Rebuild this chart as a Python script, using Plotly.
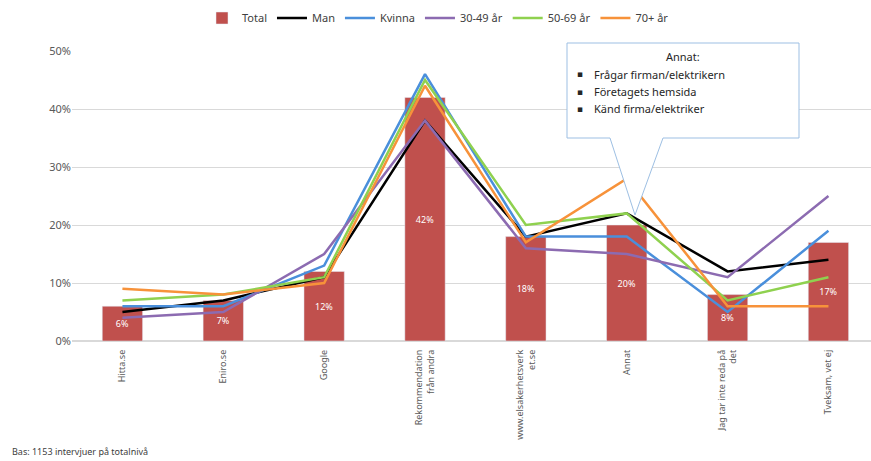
import plotly.graph_objects as go

categories = ["Hitta.se", "Eniro.se", "Google", "Rekommendation<br>från andra",
              "www.elsakerhetsverk<br>et.se", "Annat", "Jag tar inte reda på<br>det",
              "Tveksam, vet ej"]
total = [6, 7, 12, 42, 18, 20, 8, 17]
man = [5, 7, 11, 38, 18, 22, 12, 14]
kvinna = [6, 6, 13, 46, 18, 18, 5, 19]
age_30_49 = [4, 5, 15, 38, 16, 15, 11, 25]
age_50_69 = [7, 8, 11, 45, 20, 22, 7, 11]
age_70 = [9, 8, 10, 44, 17, 28, 6, 6]
y_ticks = [0, 10, 20, 30, 40, 50]
y_tick_labels = ["0%", "10%", "20%", "30%", "40%", "50%"]

W, H = 871, 461
L, R, T, B = 72, 0, 51, 120
pw, ph = W - L - R, H - T - B

def px(x):
    return (x - L) / pw

def py(y):
    return (H - B - y) / ph

font = "Noto Sans"
fig = go.Figure()
fig.add_trace(go.Bar(
    x=categories, y=total, name="Total", marker_color="#C0504D", width=0.4,
    text=[f"{v}%" for v in total], textposition="inside", insidetextanchor="middle",
    textfont=dict(color="white", size=9, family=font), textangle=0,
))
series = [("Man", man, "#000000"), ("Kvinna", kvinna, "#4A8FDB"),
          ("30-49 år", age_30_49, "#8C6BB1"), ("50-69 år", age_50_69, "#8FD14F"),
          ("70+ år", age_70, "#F7923A")]
for name, vals, col in series:
    fig.add_trace(go.Scatter(x=categories, y=vals, name=name, mode="lines",
                             line=dict(color=col, width=2.5)))

# Callout box
bx0, bx1, by0, by1 = 567, 799, 43, 138
tipx, tipy = 635, 215
b1, b2 = 610, 663
path = (f"M {px(bx0)},{py(by0)} L {px(bx1)},{py(by0)} L {px(bx1)},{py(by1)} "
        f"L {px(b2)},{py(by1)} L {px(tipx)},{py(tipy)} L {px(b1)},{py(by1)} "
        f"L {px(bx0)},{py(by1)} Z")
fig.add_shape(type="path", path=path, xref="paper", yref="paper",
              line=dict(color="#9DBFE3", width=1), fillcolor="white", layer="above")

fig.add_annotation(x=px(683), y=py(56), xref="paper", yref="paper", text="Annat:",
                   showarrow=False, font=dict(size=11, color="#262626", family=font),
                   xanchor="center", yanchor="middle")
items = ["Frågar firman/elektrikern", "Företagets hemsida", "Känd firma/elektriker"]
for i, t in enumerate(items):
    yy = 74 + i * 17.5
    fig.add_annotation(x=px(575), y=py(yy), xref="paper", yref="paper", text="▪",
                       showarrow=False, font=dict(size=9, color="#262626", family="DejaVu Sans"),
                       xanchor="left", yanchor="middle")
    fig.add_annotation(x=px(592), y=py(yy), xref="paper", yref="paper", text=t,
                       showarrow=False, font=dict(size=11, color="#262626", family=font),
                       xanchor="left", yanchor="middle")

fig.add_annotation(x=px(10), y=py(451), xref="paper", yref="paper",
                   text="Bas: 1153 intervjuer på totalnivå", showarrow=False,
                   font=dict(size=9, color="#404040", family=font),
                   xanchor="left", yanchor="middle")

fig.update_layout(
    width=W, height=H, margin=dict(l=L, r=R, t=T, b=B),
    paper_bgcolor="white", plot_bgcolor="white",
    font=dict(family=font, color="#595959"),
    legend=dict(orientation="h", x=px(438), y=py(18), xanchor="center", yanchor="middle",
                font=dict(size=11, color="#404040", family=font), itemwidth=30,
                bgcolor="rgba(0,0,0,0)"),
    bargap=0.6,
    xaxis=dict(tickangle=-90, tickfont=dict(size=9, color="#595959", family=font),
               range=[-0.5, -0.5 + pw / 100.86], showgrid=False, ticks="",
               showline=False, ticklabelstandoff=6),
    yaxis=dict(range=[0, 50], tickvals=y_ticks, ticktext=y_tick_labels,
               tickfont=dict(size=11, color="#595959", family=font),
               gridcolor="#D9D9D9", gridwidth=1, zeroline=True, zerolinecolor="#D9D9D9",
               showline=False, ticks=""),
    showlegend=True,
)
fig.write_html("out.html")
